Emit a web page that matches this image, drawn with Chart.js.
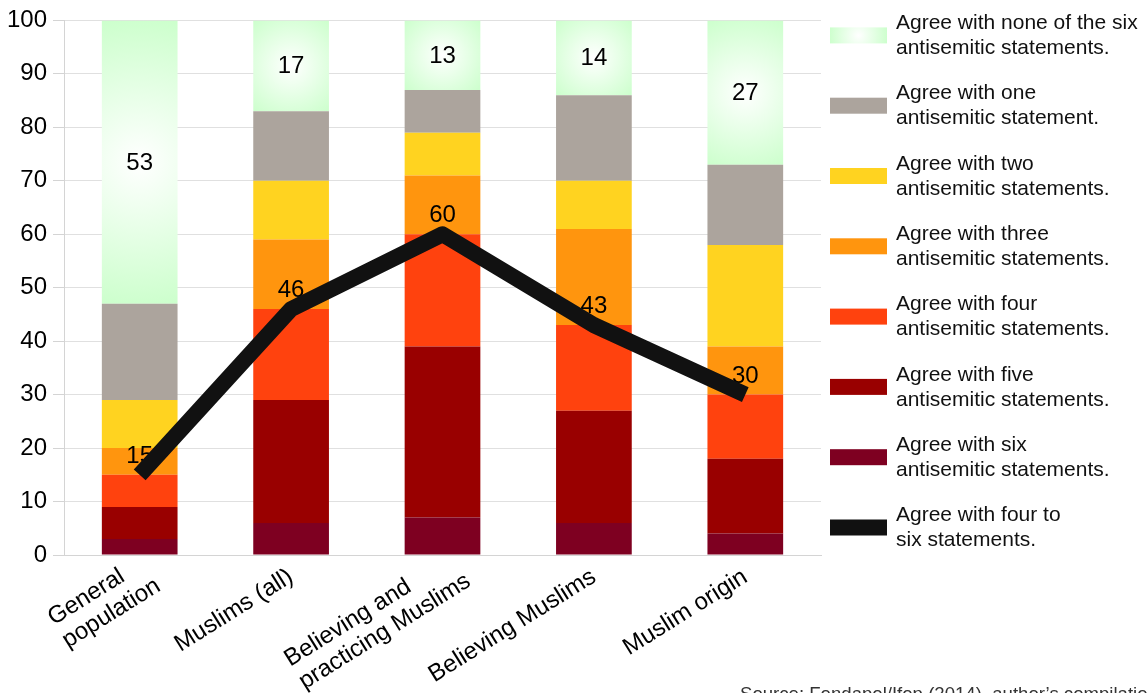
<!DOCTYPE html>
<html>
<head>
<meta charset="utf-8">
<script src="https://cdn.jsdelivr.net/npm/chart.js@4/dist/chart.umd.min.js"></script>
<style>
  html, body { margin: 0; padding: 0; background: #ffffff; }
  #wrap { position: relative; width: 1147px; height: 693px; }
</style>
</head>
<body>
<div id="wrap"><canvas id="chart" width="1147" height="693"></canvas></div>
<script>
// Groups surveyed (multi-line category labels)
const categories = [
  ['General', 'population'],
  ['Muslims (all)'],
  ['Believing and', 'practicing Muslims'],
  ['Believing Muslims'],
  ['Muslim origin']
];

// Share (%) agreeing with N antisemitic statements, per group
const agreeSix   = [3, 6, 7, 6, 4];
const agreeFive  = [6, 23, 32, 21, 14];
const agreeFour  = [6, 17, 21, 16, 12];
const agreeThree = [5, 13, 11, 18, 9];
const agreeTwo   = [9, 11, 8, 9, 19];
const agreeOne   = [18, 13, 8, 16, 15];
const agreeNone  = [53, 17, 13, 14, 27];

// Share agreeing with four to six statements
const agreeFourToSix = [15, 46, 60, 43, 30];

// Y axis ticks
const yMin = 0, yMax = 100, yStep = 10;

const seriesNames = {
  none:  ['Agree with none of the six', 'antisemitic statements.'],
  one:   ['Agree with one', 'antisemitic statement.'],
  two:   ['Agree with two', 'antisemitic statements.'],
  three: ['Agree with three', 'antisemitic statements.'],
  four:  ['Agree with four', 'antisemitic statements.'],
  five:  ['Agree with five', 'antisemitic statements.'],
  six:   ['Agree with six', 'antisemitic statements.'],
  line:  ['Agree with four to', 'six statements.']
};

const sourceNote = 'Source: Fondapol/Ifop (2014), author\u2019s compilation';

const FONT = '"Liberation Sans", Arial, Helvetica, sans-serif';
const GREEN_EDGE = '#ccffcc';
const COLORS = {
  one: '#aca49d',
  two: '#ffd320',
  three: '#ff950e',
  four: '#ff420e',
  five: '#990000',
  six: '#7e0021',
  line: '#111111'
};

// Radial white-to-green fill for the "none" segment of each column
function noneFill(context) {
  const chart = context.chart;
  if (!chart.chartArea || context.type !== 'data') return GREEN_EDGE;
  const i = context.dataIndex;
  const xs = chart.scales.x, ys = chart.scales.y;
  const base = agreeSix[i] + agreeFive[i] + agreeFour[i] + agreeThree[i] + agreeTwo[i] + agreeOne[i];
  const yTop = ys.getPixelForValue(base + agreeNone[i]);
  const yBot = ys.getPixelForValue(base);
  const cx = xs.getPixelForValue(i);
  const halfW = (xs.width / categories.length) * 0.5 / 2;
  const cy = (yTop + yBot) / 2;
  const r = Math.sqrt(halfW * halfW + ((yBot - yTop) / 2) ** 2);
  const g = chart.ctx.createRadialGradient(cx, cy, 0, cx, cy, r);
  g.addColorStop(0, '#ffffff');
  g.addColorStop(1, GREEN_EDGE);
  return g;
}

const barDefaults = { type: 'bar', stack: 'bars', order: 1, borderWidth: 0,
  barPercentage: 0.5, categoryPercentage: 1.0 };

const datasets = [
  { ...barDefaults, label: seriesNames.six.join(' '),   data: agreeSix,   backgroundColor: COLORS.six },
  { ...barDefaults, label: seriesNames.five.join(' '),  data: agreeFive,  backgroundColor: COLORS.five },
  { ...barDefaults, label: seriesNames.four.join(' '),  data: agreeFour,  backgroundColor: COLORS.four },
  { ...barDefaults, label: seriesNames.three.join(' '), data: agreeThree, backgroundColor: COLORS.three },
  { ...barDefaults, label: seriesNames.two.join(' '),   data: agreeTwo,   backgroundColor: COLORS.two },
  { ...barDefaults, label: seriesNames.one.join(' '),   data: agreeOne,   backgroundColor: COLORS.one },
  { ...barDefaults, label: seriesNames.none.join(' '),  data: agreeNone,  backgroundColor: noneFill },
  {
    type: 'line', label: seriesNames.line.join(' '), data: agreeFourToSix,
    stack: 'line', order: 0,
    borderColor: COLORS.line, backgroundColor: COLORS.line,
    borderWidth: 16, borderCapStyle: 'butt', borderJoinStyle: 'round',
    pointRadius: 0, pointHoverRadius: 0, tension: 0, fill: false
  }
];
const NONE_INDEX = 6, LINE_INDEX = 7;

// Value labels: drawn just before the line so the line sits above them
const valueLabels = {
  id: 'valueLabels',
  beforeDatasetDraw(chart, args) {
    if (args.index !== LINE_INDEX) return;
    const ctx = chart.ctx;
    ctx.save();
    ctx.font = '24px ' + FONT;
    ctx.fillStyle = '#000000';
    ctx.textAlign = 'center';
    const noneMeta = chart.getDatasetMeta(NONE_INDEX);
    noneMeta.data.forEach((el, i) => {
      ctx.textBaseline = 'middle';
      ctx.fillText(String(agreeNone[i]), el.x, (el.y + el.base) / 2 + 1);
    });
    const lineMeta = chart.getDatasetMeta(LINE_INDEX);
    lineMeta.data.forEach((pt, i) => {
      ctx.textBaseline = 'alphabetic';
      ctx.fillText(String(agreeFourToSix[i]), pt.x, pt.y - 12);
    });
    ctx.restore();
  }
};

// Rotated category labels (lines left-aligned inside the rotated block)
const categoryLabels = {
  id: 'categoryLabels',
  afterDraw(chart) {
    const ctx = chart.ctx, xs = chart.scales.x;
    const ang = 32 * Math.PI / 180;
    const lh = 27;
    ctx.save();
    ctx.font = '24px ' + FONT;
    ctx.fillStyle = '#000000';
    categories.forEach((lines, i) => {
      const w = Math.max(...lines.map(t => ctx.measureText(t).width));
      const h = lh * lines.length;
      const extra = lines.length - 1;
      ctx.save();
      ctx.translate(xs.getPixelForTick(i), xs.top + 20);
      ctx.rotate(-ang);
      // wrapped labels sit a little further along their own direction
      ctx.translate(extra * w * 0.1, extra * 4);
      ctx.textAlign = 'left';
      ctx.textBaseline = 'middle';
      lines.forEach((t, k) => ctx.fillText(t, -w, -h / 2 + lh * (k + 0.5)));
      ctx.restore();
    });
    ctx.restore();
  }
};

// Legend to the right of the plot, plus source note
const sideLegend = {
  id: 'sideLegend',
  afterDraw(chart) {
    const ctx = chart.ctx, area = chart.chartArea;
    const order = [
      ['none', null], ['one', COLORS.one], ['two', COLORS.two], ['three', COLORS.three],
      ['four', COLORS.four], ['five', COLORS.five], ['six', COLORS.six], ['line', COLORS.line]
    ];
    const boxX = area.right + 9, boxW = 57, boxH = 16, textX = area.right + 75;
    ctx.save();
    ctx.font = '21px ' + FONT;
    ctx.textAlign = 'left';
    ctx.textBaseline = 'middle';
    order.forEach(([key, color], k) => {
      const cy = area.top + 15 + k * 70.3;
      if (color) {
        ctx.fillStyle = color;
      } else {
        const cx = boxX + boxW / 2;
        const g = ctx.createRadialGradient(cx, cy, 0, cx, cy, Math.hypot(boxW / 2, boxH / 2));
        g.addColorStop(0, '#ffffff');
        g.addColorStop(1, GREEN_EDGE);
        ctx.fillStyle = g;
      }
      ctx.fillRect(boxX, cy - boxH / 2, boxW, boxH);
      ctx.fillStyle = '#111111';
      const lines = seriesNames[key];
      ctx.fillText(lines[0], textX, cy - 12);
      ctx.fillText(lines[1], textX, cy + 13);
    });
    ctx.font = '18.6px ' + FONT;
    ctx.fillStyle = '#333333';
    ctx.textBaseline = 'alphabetic';
    ctx.fillText(sourceNote, 740, 700);
    ctx.restore();
  }
};

new Chart(document.getElementById('chart'), {
  data: { labels: categories, datasets },
  options: {
    responsive: false,
    animation: false,
    events: [],
    layout: { padding: { top: 20, right: 326, bottom: 0, left: 0 } },
    plugins: { legend: { display: false }, tooltip: { enabled: false } },
    scales: {
      x: {
        stacked: true,
        offset: true,
        grid: { display: false },
        border: { display: true, color: '#d4d4d4', width: 1 },
        ticks: { display: false },
        afterFit(scale) { scale.height = 138; }
      },
      y: {
        stacked: true,
        min: yMin, max: yMax,
        grid: { color: '#e0e0e0', lineWidth: 1, drawTicks: true, tickLength: 11, tickColor: '#d4d4d4' },
        border: { display: true, color: '#d4d4d4', width: 1 },
        ticks: {
          stepSize: yStep, padding: 6, color: '#000000',
          font: { family: FONT, size: 24 }
        },
        afterFit(scale) { scale.width = 64; }
      }
    }
  },
  plugins: [valueLabels, categoryLabels, sideLegend]
});
</script>
</body>
</html>
